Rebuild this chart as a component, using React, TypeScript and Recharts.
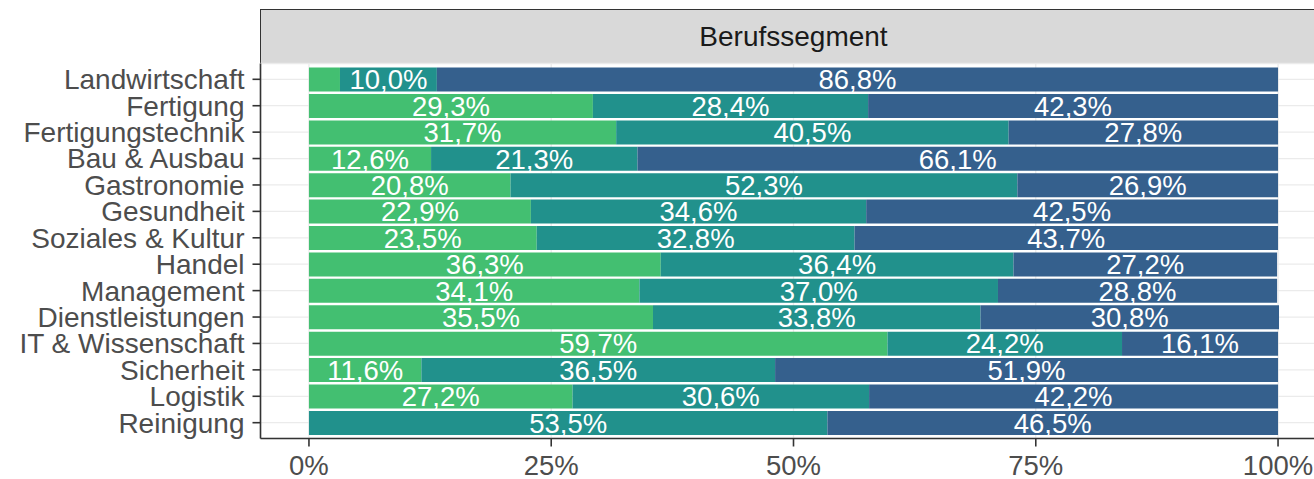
import { BarChart, Bar, XAxis, YAxis, CartesianGrid, LabelList } from 'recharts';

const categories = [
  'Landwirtschaft', 'Fertigung', 'Fertigungstechnik', 'Bau & Ausbau', 'Gastronomie',
  'Gesundheit', 'Soziales & Kultur', 'Handel', 'Management', 'Dienstleistungen',
  'IT & Wissenschaft', 'Sicherheit', 'Logistik', 'Reinigung',
];
const greenValues = [3.2, 29.3, 31.7, 12.6, 20.8, 22.9, 23.5, 36.3, 34.1, 35.5, 59.7, 11.6, 27.2, 0];
const tealValues = [10.0, 28.4, 40.5, 21.3, 52.3, 34.6, 32.8, 36.4, 37.0, 33.8, 24.2, 36.5, 30.6, 53.5];
const blueValues = [86.8, 42.3, 27.8, 66.1, 26.9, 42.5, 43.7, 27.2, 28.8, 30.8, 16.1, 51.9, 42.2, 46.5];
const xTicks = [0, 25, 50, 75, 100];

const data = categories.map((name, i) => ({
  name,
  g: greenValues[i],
  t: tealValues[i],
  b: blueValues[i],
}));

const FONT = '"Liberation Sans", Arial, Helvetica, sans-serif';

// hide labels for very thin segments
const fmtLabel = (v: any) => {
  const n = Number(v);
  if (!n || n < 5) return '';
  return n.toFixed(1).replace('.', ',') + '%';
};

const labelStyle = { fill: '#ffffff', fontSize: 27.5, fontFamily: FONT };

export default function App() {
  return (
    <div
      style={{
        position: 'absolute', left: 0, top: 0, width: 1314, height: 479,
        overflow: 'hidden', background: '#fff', fontFamily: FONT,
      }}
    >
      {/* facet strip */}
      <div
        style={{
          position: 'absolute', left: 260, top: 9, width: 1100, height: 55,
          boxSizing: 'border-box', border: '1.8px solid #333333', background: '#D9D9D9',
        }}
      />
      <div
        style={{
          position: 'absolute', left: 260.5, top: 9.5, width: 1066, height: 54,
          lineHeight: '54px', textAlign: 'center', fontSize: 28, color: '#1A1A1A',
        }}
      >
        Berufssegment
      </div>

      <BarChart
        width={1340}
        height={479}
        data={data}
        layout="vertical"
        barCategoryGap="5.5%"
        margin={{ top: 63.5, right: 13.5, left: 0, bottom: 0 }}
      >
        <CartesianGrid stroke="#EBEBEB" strokeWidth={1.3} />
        <XAxis
          type="number"
          domain={[-5, 105]}
          ticks={xTicks}
          allowDataOverflow
          tickFormatter={(v: number) => `${v}%`}
          height={40.5}
          tickSize={8}
          tickMargin={9}
          tick={{ fill: '#4D4D4D', fontSize: 27.5, fontFamily: FONT }}
          axisLine={{ stroke: '#333333', strokeWidth: 1.6 }}
          tickLine={{ stroke: '#333333', strokeWidth: 1.6 }}
        />
        <YAxis
          type="category"
          dataKey="name"
          width={260.5}
          padding={{ top: 2.6, bottom: 2.6 }}
          tickSize={8}
          tickMargin={8}
          interval={0}
          tick={{ fill: '#4D4D4D', fontSize: 28, fontFamily: FONT }}
          axisLine={{ stroke: '#333333', strokeWidth: 1.6 }}
          tickLine={{ stroke: '#333333', strokeWidth: 1.6 }}
        />
        <Bar dataKey="g" stackId="s" fill="#43BF71" isAnimationActive={false}>
          <LabelList dataKey="g" position="center" formatter={fmtLabel} style={labelStyle} />
        </Bar>
        <Bar dataKey="t" stackId="s" fill="#21918C" isAnimationActive={false}>
          <LabelList dataKey="t" position="center" formatter={fmtLabel} style={labelStyle} />
        </Bar>
        <Bar dataKey="b" stackId="s" fill="#35608D" isAnimationActive={false}>
          <LabelList dataKey="b" position="center" formatter={fmtLabel} style={labelStyle} />
        </Bar>
      </BarChart>
    </div>
  );
}
